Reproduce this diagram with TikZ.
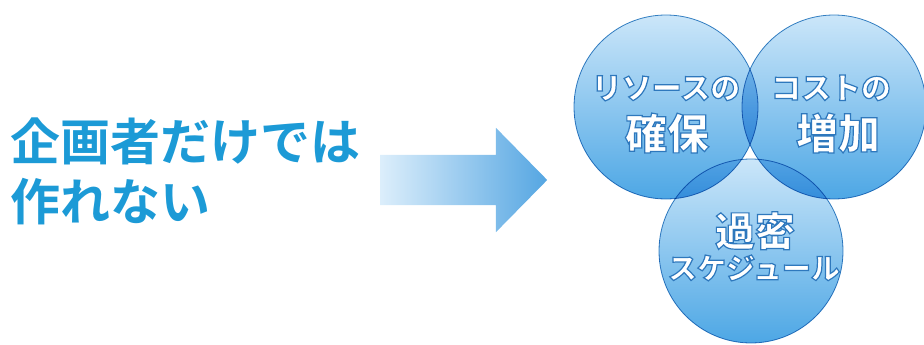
\documentclass[tikz,border=0pt]{standalone}
\usepackage{fontspec}
\setmainfont{Noto Sans CJK JP}[BoldFont={Noto Sans CJK JP Bold}]
\newfontfamily\heavyfont{Noto Sans CJK JP Black}
\usetikzlibrary{shapes.arrows,positioning}

\definecolor{titleblue}{HTML}{1C9AD6}
\definecolor{arrowlight}{HTML}{DCEEFB}
\definecolor{arrowdark}{HTML}{55A6E2}
\definecolor{circtop}{HTML}{CBE6F9}
\definecolor{circmid}{HTML}{88C4EF}
\definecolor{circbottom}{HTML}{4DA7E5}
\definecolor{circedge}{HTML}{3A86C4}

% white letters with a blue rim (stroke drawn by the pdf itself)
\newcommand{\glowtext}[1]{\special{pdf:literal direct 0.18 0.47 0.74 RG 1.2 w 2 Tr}#1\special{pdf:literal direct 0 Tr 0.3985 w}}

\begin{document}
\begin{tikzpicture}[
                x=1pt, y=-1pt,
                titletext/.style={anchor=base west, inner sep=0pt, text=titleblue,
                    font=\fontsize{50}{60}\selectfont\bfseries},
                bigarrow/.style={single arrow, anchor=tail, inner xsep=0pt, inner ysep=25pt,
                    text height=0pt, text depth=0pt, text width=0pt,
                    minimum height=167pt, single arrow head extend=27pt,
                    single arrow tip angle=91,
                    left color=arrowlight, right color=arrowdark},
                bubble/.style={circle, minimum size=184pt, inner sep=0pt,
                    top color=circtop, middle color=circmid, bottom color=circbottom,
                    draw=circedge, line width=0.8pt, blend mode=multiply},
                smalltext/.style={anchor=base, inner sep=0pt, text=white,
                    font=\fontsize{30}{30}\selectfont\heavyfont},
                bigtext/.style={anchor=base, inner sep=0pt, text=white,
                    font=\fontsize{42}{42}\selectfont\heavyfont}
            ]
            \useasboundingbox (0,0) rectangle (924,345);

            % Title
            \node[titletext] (title1) at (10,160) {企画者だけでは};
            \node[titletext] (title2) at (10,220) {作れない};

            % Arrow
            \node[bigarrow] (arrow) at (380,180) {};

            % Circles
            \node[bubble] (resource) at (666,107) {};
            \node[bubble] (cost) at (834,107) {};
            \node[bubble] (schedule) at (751,251) {};

            % Circle labels
            \node[smalltext] (res1) at (666,99) {\glowtext{リソースの}};
            \node[bigtext] (res2) at (667,149) {\glowtext{確保}};
            \node[smalltext] (cost1) at (831,99) {\glowtext{コストの}};
            \node[bigtext] (cost2) at (838,149) {\glowtext{増加}};
            \node[bigtext, font=\fontsize{40}{40}\selectfont\heavyfont] (sch1) at (755,246) {\glowtext{過密}};
            \node[smalltext, font=\fontsize{29}{29}\selectfont\heavyfont] (sch2) at (754,279) {\glowtext{スケジュール}};

        \end{tikzpicture}
\end{document}
